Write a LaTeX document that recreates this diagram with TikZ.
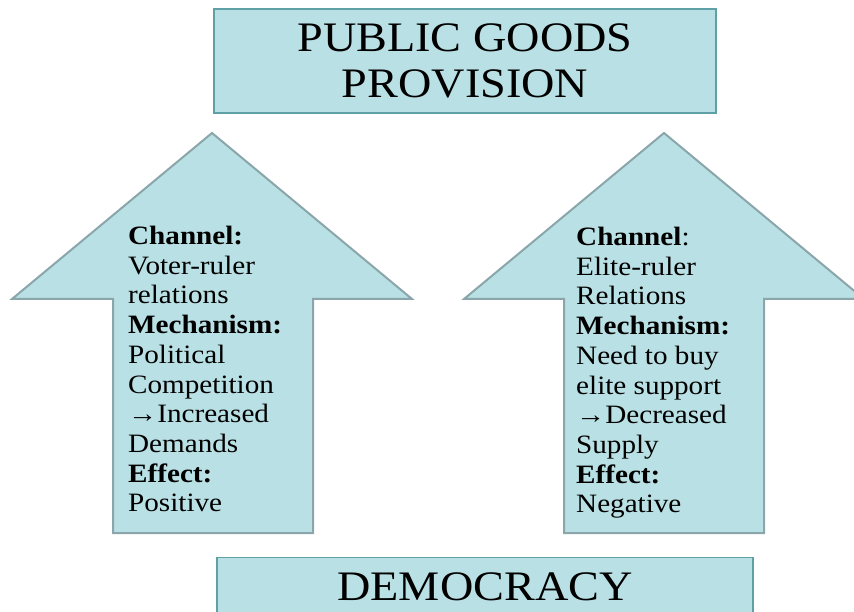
\documentclass[tikz,border=0pt]{standalone}
\usepackage{fontspec}
\setmainfont{Liberation Serif}[FakeStretch=1.1]
\definecolor{boxfill}{RGB}{185,224,228}
\definecolor{boxline}{RGB}{95,160,166}
\definecolor{arrline}{RGB}{138,166,170}
\begin{document}
\begin{tikzpicture}[x = 1pt, y = -1pt]
\tikzstyle{box}=[draw = boxline, fill = boxfill, line width = 1.2pt, inner sep = 0pt, align = center, font = \fontsize{42}{46}\selectfont]
\tikzstyle{blockarrow}=[draw = arrline, fill = boxfill, line width = 2pt, line join = miter]
\tikzstyle{arrowtext}=[anchor = north west, inner sep = 0pt, align = left, font = \fontsize{26.5}{29.7}\selectfont]

\useasboundingbox (0,0) rectangle (854,612);
\clip (0,0) rectangle (854,612);

\node[box, minimum width = 502, minimum height = 104] (pgp) at (465, 61) {PUBLIC GOODS\\PROVISION};

\node[box, anchor = north, minimum width = 536, text height = 43, text depth = 40] (dem) at (485, 557) {DEMOCRACY};

\draw[blockarrow] (212,133) -- (412,299) -- (313,299) -- (313,533) -- (113,533) -- (113,299) -- (12,299) -- cycle;
\draw[blockarrow] (664,133) -- (864,299) -- (764,299) -- (764,533) -- (564,533) -- (564,299) -- (464,299) -- cycle;

\node[arrowtext] (voter) at (128, 226) {\textbf{Channel:}\\Voter-ruler\\relations\\\textbf{Mechanism:}\\Political\\Competition\\→Increased\\Demands\\\textbf{Effect:}\\Positive};
\node[arrowtext] (elite) at (576, 227) {\textbf{Channel}:\\Elite-ruler\\Relations\\\textbf{Mechanism:}\\Need to buy\\elite support\\→Decreased\\Supply\\\textbf{Effect:}\\Negative};

\end{tikzpicture}
\end{document}
